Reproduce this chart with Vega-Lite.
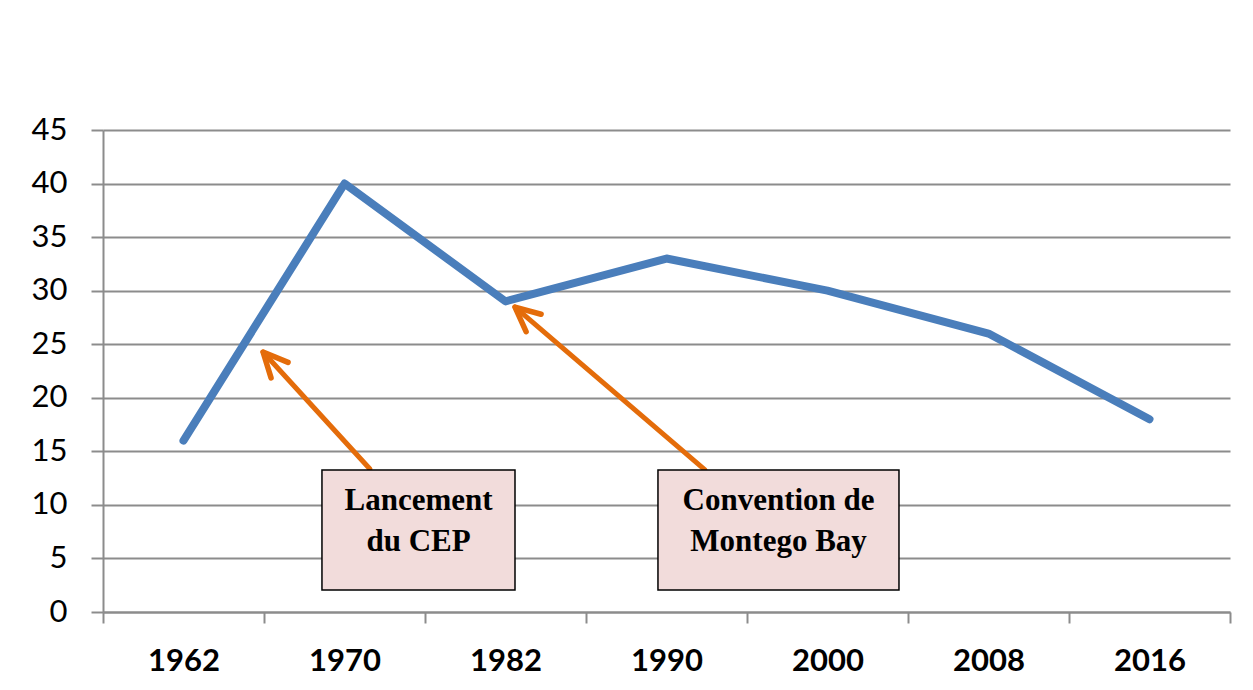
{
  "$schema": "https://vega.github.io/schema/vega-lite/v6.json",
  "autosize": "none",
  "width": 1127,
  "height": 482,
  "padding": {"left": 103, "top": 130, "right": 23, "bottom": 78},
  "background": "white",
  "config": {"view": {"stroke": null}},
  "datasets": {
    "series": [
      {"year": "1962", "value": 16},
      {"year": "1970", "value": 40},
      {"year": "1982", "value": 29},
      {"year": "1990", "value": 33},
      {"year": "2000", "value": 30},
      {"year": "2008", "value": 26},
      {"year": "2016", "value": 18}
    ],
    "notes": [
      {"id": "cep", "line1": "Lancement", "line2": "du CEP", "bx0": 0.860, "bx1": 2.059, "by0": 2.05, "by1": 13.26, "tx": 1.46, "tail_x": 1.158, "tail_y": 13.35, "tip_x": 0.494, "tip_y": 24.27},
      {"id": "mb", "line1": "Convention de", "line2": "Montego Bay", "bx0": 2.947, "bx1": 4.444, "by0": 2.05, "by1": 13.26, "tx": 3.696, "tail_x": 3.239, "tail_y": 13.26, "tip_x": 2.059, "tip_y": 28.47}
    ]
  },
  "resolve": {"scale": {"x": "independent"}},
  "layer": [
    {
      "data": {"name": "series"},
      "mark": {"type": "line", "color": "#4A7EBB", "strokeWidth": 8, "strokeCap": "round", "strokeJoin": "round"},
      "encoding": {
        "x": {
          "field": "year", "type": "ordinal", "bandPosition": 0.5,
          "scale": {"type": "band", "paddingInner": 0, "paddingOuter": 0},
          "axis": {
            "title": null, "tickBand": "extent", "grid": false,
            "domainColor": "#8c8c8c", "domainWidth": 2,
            "tickColor": "#8c8c8c", "tickWidth": 2, "tickSize": 11,
            "labelFont": "Lato", "labelFontWeight": "bold", "labelFontSize": 31,
            "labelColor": "black", "labelAngle": 0, "labelPadding": 23
          }
        },
        "y": {
          "field": "value", "type": "quantitative",
          "scale": {"domain": [0, 45], "nice": false},
          "axis": {
            "title": null, "values": [0, 5, 10, 15, 20, 25, 30, 35, 40, 45],
            "grid": true, "gridColor": "#8c8c8c", "gridWidth": 2,
            "domainColor": "#8c8c8c", "domainWidth": 2,
            "tickColor": "#8c8c8c", "tickWidth": 2, "tickSize": 12,
            "labelFont": "Lato", "labelFontSize": 31, "labelColor": "black",
            "labelPadding": 24
          }
        }
      }
    },
    {
      "data": {"name": "notes"},
      "mark": {"type": "rule", "color": "#E46C0A", "strokeWidth": 5, "strokeCap": "round"},
      "encoding": {
        "x": {"field": "tail_x", "type": "quantitative", "scale": {"domain": [-0.5, 6.5], "nice": false, "zero": false}, "axis": null},
        "x2": {"field": "tip_x"},
        "y": {"field": "tail_y", "type": "quantitative"},
        "y2": {"field": "tip_y"}
      }
    },
    {
      "data": {"name": "notes"},
      "transform": [{"filter": "datum.id === 'cep'"}],
      "mark": {"type": "point", "shape": "M -0.47 1 L 0 0 L 0.47 1", "filled": false, "stroke": "#E46C0A", "strokeWidth": 5.5, "strokeCap": "round", "strokeJoin": "round", "size": 2400, "angle": 317.6, "opacity": 1},
      "encoding": {
        "x": {"field": "tip_x", "type": "quantitative", "scale": {"domain": [-0.5, 6.5], "nice": false, "zero": false}, "axis": null},
        "y": {"field": "tip_y", "type": "quantitative"}
      }
    },
    {
      "data": {"name": "notes"},
      "transform": [{"filter": "datum.id === 'mb'"}],
      "mark": {"type": "point", "shape": "M -0.47 1 L 0 0 L 0.47 1", "filled": false, "stroke": "#E46C0A", "strokeWidth": 5.5, "strokeCap": "round", "strokeJoin": "round", "size": 2400, "angle": 310.6, "opacity": 1},
      "encoding": {
        "x": {"field": "tip_x", "type": "quantitative", "scale": {"domain": [-0.5, 6.5], "nice": false, "zero": false}, "axis": null},
        "y": {"field": "tip_y", "type": "quantitative"}
      }
    },
    {
      "data": {"name": "notes"},
      "mark": {"type": "rect", "fill": "#F2DCDB", "stroke": "black", "strokeWidth": 1.5},
      "encoding": {
        "x": {"field": "bx0", "type": "quantitative", "scale": {"domain": [-0.5, 6.5], "nice": false, "zero": false}, "axis": null},
        "x2": {"field": "bx1"},
        "y": {"field": "by0", "type": "quantitative"},
        "y2": {"field": "by1"}
      }
    },
    {
      "data": {"name": "notes"},
      "mark": {"type": "text", "font": "Liberation Serif", "fontWeight": "bold", "fontSize": 31, "color": "black", "align": "center", "baseline": "alphabetic"},
      "encoding": {
        "x": {"field": "tx", "type": "quantitative", "scale": {"domain": [-0.5, 6.5], "nice": false, "zero": false}, "axis": null},
        "y": {"datum": 9.52, "type": "quantitative"},
        "text": {"field": "line1"}
      }
    },
    {
      "data": {"name": "notes"},
      "mark": {"type": "text", "font": "Liberation Serif", "fontWeight": "bold", "fontSize": 31, "color": "black", "align": "center", "baseline": "alphabetic"},
      "encoding": {
        "x": {"field": "tx", "type": "quantitative", "scale": {"domain": [-0.5, 6.5], "nice": false, "zero": false}, "axis": null},
        "y": {"datum": 5.74, "type": "quantitative"},
        "text": {"field": "line2"}
      }
    }
  ]
}
